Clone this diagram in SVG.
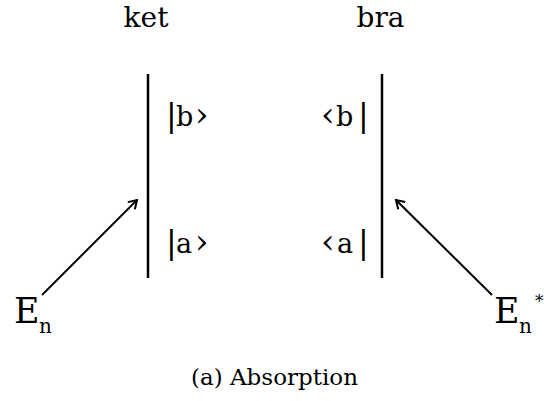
<svg xmlns="http://www.w3.org/2000/svg" width="544" height="401" viewBox="0 0 544 401">
<style>
.t{font-family:"DejaVu Serif",serif;fill:#000}
.lbl{font-size:27px}
.bar{font-size:32px}
.gq{font-size:34px}
.vl{stroke:#000;stroke-width:2.5}
</style>
<defs>
<marker id="ah" markerWidth="12" markerHeight="12" refX="10" refY="6" orient="auto" markerUnits="userSpaceOnUse">
<path d="M2,1 L10,6 L2,11" fill="none" stroke="#000" stroke-width="2"/>
</marker>
</defs>
<rect width="544" height="401" fill="#fff"/>
<g id="ket">
<text class="t" x="146" y="27" font-size="28" text-anchor="middle">ket</text>
<line class="vl" x1="148" y1="74" x2="148" y2="278"/>
<text class="t lbl" y="126"><tspan class="bar" x="166">|</tspan><tspan x="176">b</tspan><tspan class="gq" x="195">›</tspan></text>
<text class="t lbl" y="253"><tspan class="bar" x="166">|</tspan><tspan x="176">a</tspan><tspan class="gq" x="195">›</tspan></text>
</g>
<g id="bra">
<text class="t" x="380.5" y="27" font-size="28" text-anchor="middle">bra</text>
<line class="vl" x1="382" y1="74" x2="382" y2="278"/>
<text class="t lbl" y="126"><tspan class="gq" x="321">‹</tspan><tspan x="336">b</tspan><tspan class="bar" x="358">|</tspan></text>
<text class="t lbl" y="253"><tspan class="gq" x="321">‹</tspan><tspan x="337">a</tspan><tspan class="bar" x="358">|</tspan></text>
</g>
<g id="En">
<text class="t" y="323" font-size="35"><tspan x="14">E</tspan><tspan x="39" y="333" font-size="20">n</tspan></text>
</g>
<g id="EnStar">
<text class="t" y="323" font-size="35"><tspan x="494">E</tspan><tspan x="519" y="333" font-size="20">n</tspan><tspan x="535" y="307" font-size="17">*</tspan></text>
</g>
<g id="connectors" stroke="#000" stroke-width="2" fill="none">
<line x1="42" y1="295" x2="137" y2="200" marker-end="url(#ah)"/>
<line x1="492" y1="295" x2="396" y2="200" marker-end="url(#ah)"/>
</g>
<text class="t" x="274.5" y="385" font-size="23" text-anchor="middle">(a) Absorption</text>
</svg>
